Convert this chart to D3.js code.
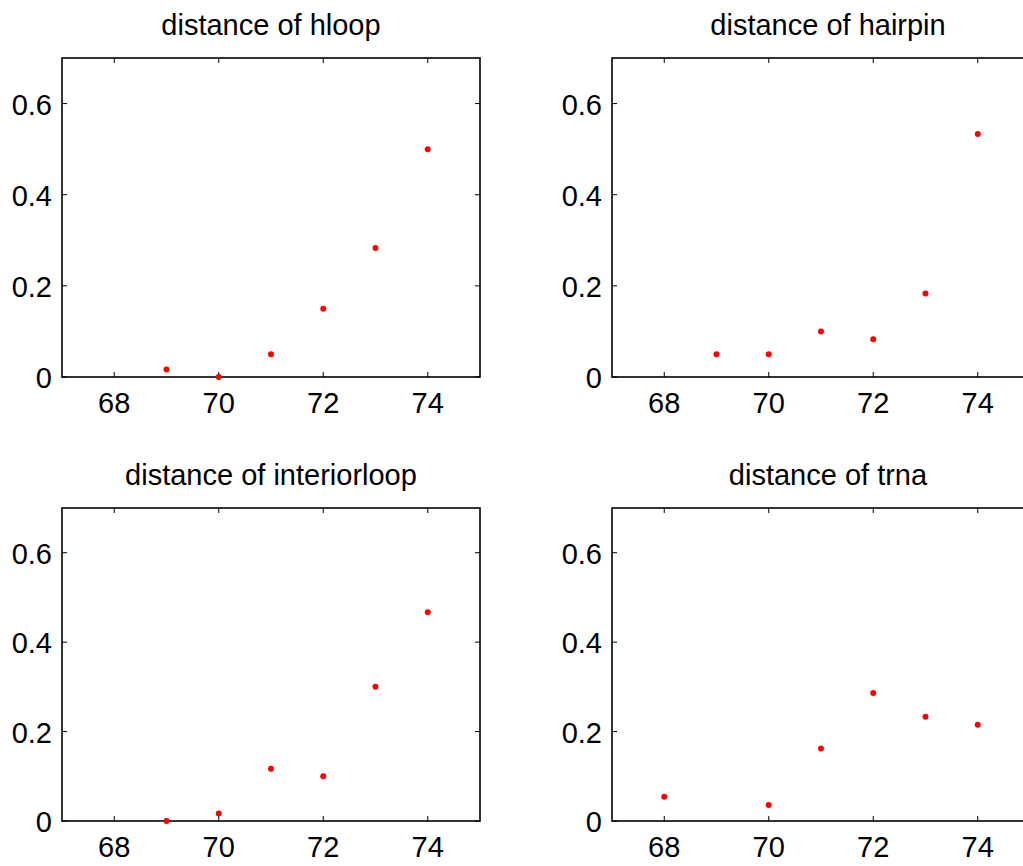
<!DOCTYPE html>
<head>
  <meta charset="utf-8">
  <script src="https://d3js.org/d3.v7.min.js"></script>
  <style>
    body { margin: 0; background: #fff; }
    svg { display: block; }
    text { font-family: "Liberation Sans", Arial, sans-serif; fill: #000; }
  </style>
</head>
<body>
  <svg width="1023" height="866"></svg>
  <script>
    var titles = ['distance of hloop', 'distance of hairpin', 'distance of interiorloop', 'distance of trna'];
    var hloopX = [69, 70, 71, 72, 73, 74];
    var hloopY = [0.0167, 0, 0.05, 0.15, 0.283, 0.5];
    var hairpinX = [69, 70, 71, 72, 73, 74];
    var hairpinY = [0.05, 0.05, 0.1, 0.083, 0.183, 0.533];
    var interiorX = [69, 70, 71, 72, 73, 74];
    var interiorY = [0, 0.0167, 0.117, 0.1, 0.3, 0.467];
    var trnaX = [68, 70, 71, 72, 73, 74];
    var trnaY = [0.054, 0.036, 0.162, 0.286, 0.233, 0.215];
    var xTicks = [68, 70, 72, 74];
    var yTicks = [0, 0.2, 0.4, 0.6];

    var series = [[hloopX, hloopY], [hairpinX, hairpinY], [interiorX, interiorY], [trnaX, trnaY]];
    // panel boxes (left, top, right, bottom)
    var boxes = [
      [62, 58, 480, 377],
      [612, 58, 1030, 377],
      [62, 508, 480, 821],
      [612, 508, 1030, 821]
    ];

    var svg = d3.select('svg');

    series.forEach(function (s, i) {
      var b = boxes[i];
      var x = d3.scaleLinear().domain([67, 75]).range([b[0], b[2]]);
      var y = d3.scaleLinear().domain([0, 0.7]).range([b[3], b[1]]);
      var g = svg.append('g');

      // ticks inward on all four sides
      var tl = 5;
      xTicks.forEach(function (t) {
        g.append('line').attr('x1', x(t)).attr('x2', x(t)).attr('y1', b[3]).attr('y2', b[3] - tl)
          .attr('stroke', '#000').attr('stroke-width', 1);
        g.append('line').attr('x1', x(t)).attr('x2', x(t)).attr('y1', b[1]).attr('y2', b[1] + tl)
          .attr('stroke', '#000').attr('stroke-width', 1);
        g.append('text').attr('x', x(t)).attr('y', b[3] + 36).attr('text-anchor', 'middle')
          .style('font-size', '29px').text(t);
      });
      yTicks.forEach(function (t) {
        g.append('line').attr('x1', b[0]).attr('x2', b[0] + tl).attr('y1', y(t)).attr('y2', y(t))
          .attr('stroke', '#000').attr('stroke-width', 1);
        g.append('line').attr('x1', b[2]).attr('x2', b[2] - tl).attr('y1', y(t)).attr('y2', y(t))
          .attr('stroke', '#000').attr('stroke-width', 1);
        g.append('text').attr('x', b[0] - 10).attr('y', y(t) + 11).attr('text-anchor', 'end')
          .style('font-size', '29px').text(t === 0 ? '0' : t.toFixed(1));
      });

      g.append('rect').attr('x', b[0]).attr('y', b[1])
        .attr('width', b[2] - b[0]).attr('height', b[3] - b[1])
        .attr('fill', 'none').attr('stroke', '#000').attr('stroke-width', 1.6);

      g.selectAll('circle').data(s[0]).enter().append('circle')
        .attr('cx', function (d) { return x(d); })
        .attr('cy', function (d, j) { return y(s[1][j]); })
        .attr('r', 3)
        .attr('fill', '#ff0000');

      g.append('text').attr('x', (b[0] + b[2]) / 2 + (i % 2 ? 7 : 0)).attr('y', b[1] - 23)
        .attr('text-anchor', 'middle').style('font-size', '29px').text(titles[i]);
    });
  </script>
</body>
